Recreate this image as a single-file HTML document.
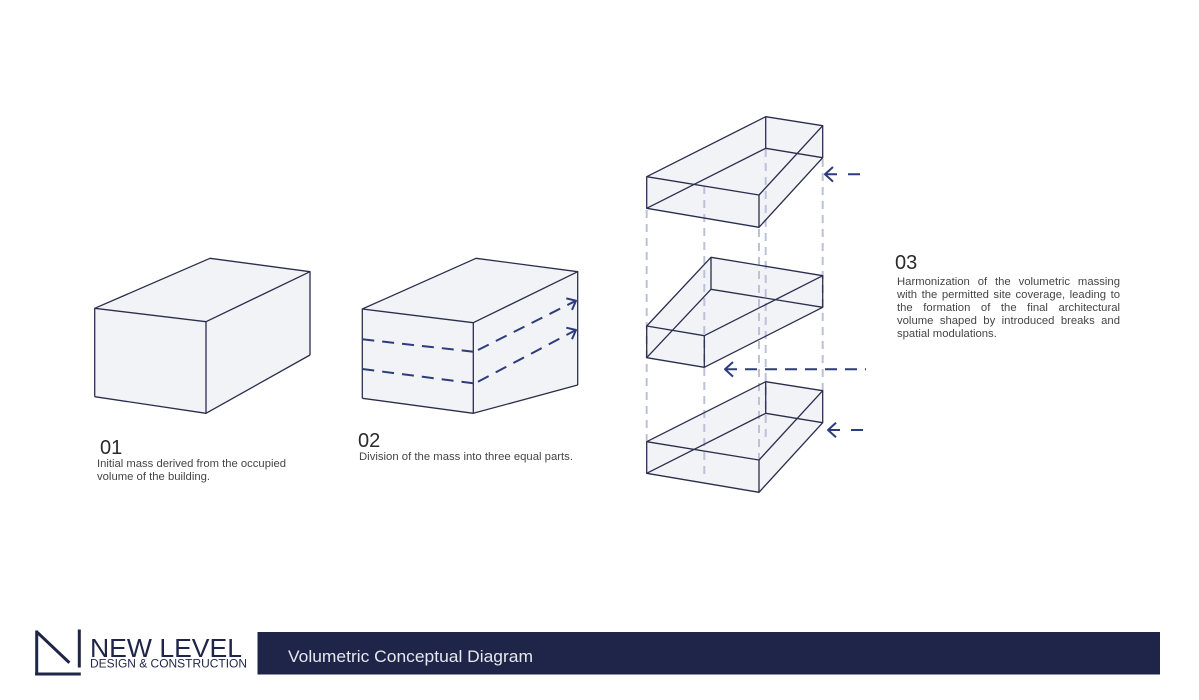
<!DOCTYPE html>
<html>
<head>
<meta charset="utf-8">
<style>
  html,body{margin:0;padding:0;background:#fff;}
  body{width:1199px;height:700px;position:relative;overflow:hidden;font-family:"Liberation Sans",sans-serif;}
  svg{position:absolute;left:0;top:0;}
  .para{position:absolute;left:897px;top:275.6px;width:223px;font-size:11.3px;line-height:13px;color:#454545;}
  .para div{text-align:justify;text-align-last:justify;white-space:nowrap;}
  .para div.last{text-align-last:left;}
</style>
</head>
<body>
<svg width="1199" height="700" viewBox="0 0 1199 700" xmlns="http://www.w3.org/2000/svg">
  <!-- ===== Box 1 ===== -->
  <polygon points="94.7,308.3 210,258.3 310,271.7 310,355 206,413.3 94.7,396.7" fill="#f2f3f7"/>
  <g stroke="#2a2e4d" stroke-width="1.3" fill="none" stroke-linejoin="round">
    <polygon points="94.7,308.3 210,258.3 310,271.7 206,321.7"/>
    <line x1="94.7" y1="308.3" x2="94.7" y2="396.7"/>
    <line x1="206" y1="321.7" x2="206" y2="413.3"/>
    <line x1="310" y1="271.7" x2="310" y2="355"/>
    <polyline points="94.7,396.7 206,413.3 310,355"/>
  </g>

  <!-- ===== Box 2 ===== -->
  <polygon points="362.3,309 476,258.3 577.7,271.7 577.7,385 473.3,413.3 362.3,398.3" fill="#f2f3f7"/>
  <g stroke="#2a2e4d" stroke-width="1.3" fill="none" stroke-linejoin="round">
    <polygon points="362.3,309 476,258.3 577.7,271.7 473.3,322.7"/>
    <line x1="362.3" y1="309" x2="362.3" y2="398.3"/>
    <line x1="473.3" y1="322.7" x2="473.3" y2="413.3"/>
    <line x1="577.7" y1="271.7" x2="577.7" y2="385"/>
    <polyline points="362.3,398.3 473.3,413.3 577.7,385"/>
  </g>
  <g stroke="#2d3c7a" stroke-width="2" fill="none" stroke-linecap="butt">
    <line x1="362.3" y1="339.3" x2="473.3" y2="351.7" stroke-dasharray="12 8"/>
    <line x1="478" y1="350" x2="576" y2="300.7" stroke-dasharray="12 8"/>
    <polyline points="566.3,298.4 576,300.7 572,309.9" stroke-linejoin="round"/>
    <line x1="362.3" y1="369" x2="473.3" y2="383.3" stroke-dasharray="12 8"/>
    <line x1="478" y1="381.7" x2="576" y2="330" stroke-dasharray="12 8"/>
    <polyline points="566.3,327.7 576,330 572,339.2" stroke-linejoin="round"/>
  </g>

  <!-- ===== Box 3 (slabs) fills ===== -->
  <polygon points="646.7,176.7 765.7,116.7 822.7,125.7 822.7,157.7 759,227.3 646.7,208.3" fill="#f2f3f7"/>
  <polygon points="646.7,326 711,257.3 822.7,275.7 822.7,307.3 704.3,367.3 646.7,357.7" fill="#f2f3f7"/>
  <polygon points="646.7,441.7 765.7,381.7 822.7,390.7 822.7,422.7 759,492.3 646.7,473.3" fill="#f2f3f7"/>

  <!-- vertical dashed guides -->
  <g stroke="#bcc1da" stroke-width="2" fill="none" stroke-dasharray="8 6">
    <line x1="646.7" y1="210" x2="646.7" y2="441"/>
    <line x1="704.3" y1="186" x2="704.3" y2="477"/>
    <line x1="759" y1="229" x2="759" y2="459"/>
    <line x1="765.7" y1="149" x2="765.7" y2="438"/>
    <line x1="822.7" y1="159" x2="822.7" y2="391"/>
  </g>

  <!-- slab edges -->
  <g stroke="#2a2e4d" stroke-width="1.3" fill="none" stroke-linejoin="round">
    <!-- top slab -->
    <polygon points="646.7,176.7 765.7,116.7 822.7,125.7 759,195"/>
    <polygon points="646.7,208.3 765.7,148.3 822.7,157.7 759,227.3"/>
    <line x1="646.7" y1="176.7" x2="646.7" y2="208.3"/>
    <line x1="765.7" y1="116.7" x2="765.7" y2="148.3"/>
    <line x1="822.7" y1="125.7" x2="822.7" y2="157.7"/>
    <line x1="759" y1="195" x2="759" y2="227.3"/>
    <!-- middle slab -->
    <polygon points="646.7,326 711,257.3 822.7,275.7 704.3,335.7"/>
    <polygon points="646.7,357.7 711,289.3 822.7,307.3 704.3,367.3"/>
    <line x1="646.7" y1="326" x2="646.7" y2="357.7"/>
    <line x1="711" y1="257.3" x2="711" y2="289.3"/>
    <line x1="822.7" y1="275.7" x2="822.7" y2="307.3"/>
    <line x1="704.3" y1="335.7" x2="704.3" y2="367.3"/>
    <!-- bottom slab -->
    <polygon points="646.7,441.7 765.7,381.7 822.7,390.7 759,460"/>
    <polygon points="646.7,473.3 765.7,413.3 822.7,422.7 759,492.3"/>
    <line x1="646.7" y1="441.7" x2="646.7" y2="473.3"/>
    <line x1="765.7" y1="381.7" x2="765.7" y2="413.3"/>
    <line x1="822.7" y1="390.7" x2="822.7" y2="422.7"/>
    <line x1="759" y1="460" x2="759" y2="492.3"/>
  </g>

  <!-- right-side arrows -->
  <g stroke="#2d3c7a" stroke-width="2" fill="none">
    <line x1="825" y1="174.3" x2="861" y2="174.3" stroke-dasharray="12 11"/>
    <polyline points="833,167 825,174.3 833,181.6" stroke-linejoin="round"/>
    <line x1="725" y1="369.3" x2="866" y2="369.3" stroke-dasharray="12 8"/>
    <polyline points="733,362 725,369.3 733,376.6" stroke-linejoin="round"/>
    <line x1="828" y1="430" x2="866" y2="430" stroke-dasharray="12 11"/>
    <polyline points="836,422.7 828,430 836,437.3" stroke-linejoin="round"/>
  </g>

  <!-- labels -->
  <g font-family="Liberation Sans, sans-serif" fill="#2a2a2a">
    <text x="100" y="454" font-size="20">01</text>
    <text x="358" y="447" font-size="20">02</text>
    <text x="895" y="269" font-size="20">03</text>
  </g>
  <g font-family="Liberation Sans, sans-serif" fill="#454545" font-size="11.3">
    <text x="97" y="467" textLength="189" lengthAdjust="spacingAndGlyphs">Initial mass derived from the occupied</text>
    <text x="97" y="480">volume of the building.</text>
    <text x="359" y="460" textLength="214" lengthAdjust="spacingAndGlyphs">Division of the mass into three equal parts.</text>
  </g>

  <!-- footer -->
  <g stroke="#1f2548" stroke-width="3" fill="none" stroke-linecap="square">
    <line x1="36.7" y1="632" x2="36.7" y2="674"/>
    <line x1="36.7" y1="674" x2="79.3" y2="674"/>
    <line x1="79.3" y1="631" x2="79.3" y2="666"/>
    <line x1="38.5" y1="633.5" x2="68.3" y2="661.7"/>
  </g>
  <text x="90" y="657" font-family="Liberation Sans, sans-serif" font-size="25.5" fill="#1f2548" textLength="152" lengthAdjust="spacingAndGlyphs">NEW LEVEL</text>
  <text x="90" y="667.5" font-family="Liberation Sans, sans-serif" font-size="11.5" fill="#1f2548" textLength="157" lengthAdjust="spacingAndGlyphs">DESIGN &amp; CONSTRUCTION</text>
  <rect x="257.5" y="632" width="902.5" height="42.5" fill="#1f2548"/>
  <text x="288" y="662" font-family="Liberation Sans, sans-serif" font-size="17" fill="#e6e7ef" textLength="245" lengthAdjust="spacingAndGlyphs">Volumetric Conceptual Diagram</text>
</svg>

<div class="para">
  <div>Harmonization of the volumetric massing</div>
  <div>with the permitted site coverage, leading to</div>
  <div>the formation of the final architectural</div>
  <div>volume shaped by introduced breaks and</div>
  <div class="last">spatial modulations.</div>
</div>
</body>
</html>
